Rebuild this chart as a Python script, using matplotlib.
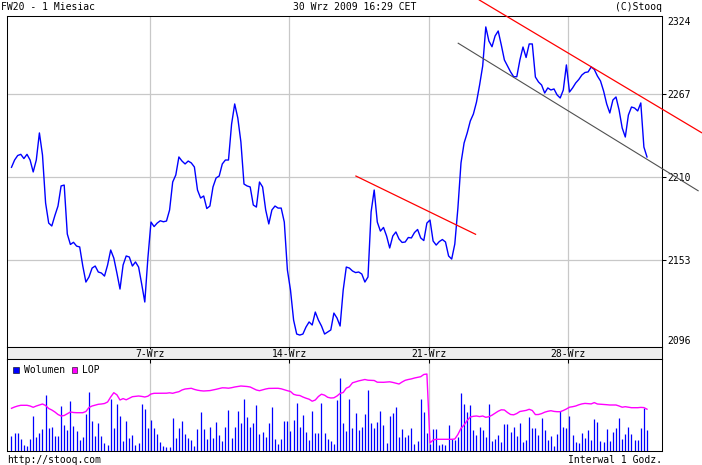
import matplotlib
matplotlib.use("Agg")
import matplotlib.pyplot as plt
import numpy as np
from matplotlib.patches import Rectangle

plt.rcParams["font.family"] = ["DejaVu Sans Mono"]
plt.rcParams["font.size"] = 7

# FW20 hourly close, 31 Aug - 30 Sep 2009 (9 bars per session)
price = [
    2216.7, 2221.7, 2224.8, 2225.6, 2222.7, 2225.6, 2221.7, 2213.5, 2221.7, 2240.3,
    2225.1, 2192.2, 2178.4, 2176.4, 2183.6, 2190.1, 2203.9, 2204.5, 2170.9, 2163.7,
    2165.2, 2162.6, 2162.0, 2148.9, 2137.9, 2141.4, 2147.5, 2148.9, 2144.8, 2144.1,
    2142.0, 2149.6, 2159.9, 2154.4, 2144.1, 2133.1, 2149.6, 2155.8, 2155.1, 2148.9,
    2151.7, 2148.2, 2136.5, 2124.2, 2154.4, 2179.1, 2176.0, 2178.4, 2180.0, 2179.3,
    2179.8, 2187.4, 2206.6, 2211.4, 2223.8, 2221.0, 2219.0, 2221.0, 2219.7, 2216.9,
    2201.1, 2195.6, 2197.0, 2188.4, 2190.1, 2203.2, 2209.4, 2210.7, 2219.0, 2221.7,
    2221.7, 2246.4, 2260.2, 2250.6, 2234.1, 2205.2, 2203.9, 2203.2, 2190.8, 2189.4,
    2206.6, 2203.2, 2187.4, 2177.8, 2187.4, 2190.1, 2188.7, 2188.7, 2179.1, 2146.2,
    2132.4, 2111.8, 2102.2, 2101.5, 2102.2, 2107.0, 2110.5, 2108.4, 2117.3, 2111.8,
    2107.7, 2102.2, 2103.6, 2105.0, 2116.6, 2113.2, 2107.7, 2132.4, 2148.2, 2147.5,
    2145.5, 2144.4, 2144.8, 2143.4, 2137.9, 2141.4, 2186.0, 2201.1, 2179.1, 2172.9,
    2175.4, 2169.5, 2161.3, 2169.5, 2172.3, 2167.5, 2165.1, 2165.4, 2168.5, 2168.2,
    2171.9, 2174.0, 2168.2, 2166.4, 2178.4, 2180.5, 2166.1, 2163.3, 2165.7, 2167.1,
    2165.4, 2155.8, 2153.7, 2164.0, 2188.7, 2219.7, 2233.4, 2240.3, 2248.5, 2253.3,
    2261.5, 2273.2, 2286.3, 2313.1, 2303.4, 2299.5, 2306.9, 2310.3, 2300.7, 2290.4,
    2286.3, 2282.2, 2278.9, 2278.9, 2290.4, 2299.3, 2292.1, 2301.4, 2301.4, 2278.7,
    2275.3, 2273.2, 2267.7, 2271.2, 2269.8, 2270.5, 2266.4, 2264.3, 2269.8, 2287.0,
    2268.4, 2271.2, 2274.6, 2277.0, 2280.1, 2281.8, 2282.2, 2285.6, 2283.9, 2279.4,
    2276.0, 2269.1, 2260.2, 2254.0, 2262.9, 2265.0, 2256.0, 2243.7, 2237.5, 2252.6,
    2258.1, 2257.4, 2255.4, 2260.9, 2230.6, 2223.8,
]

# volume (relative units)
volume = [
    15, 17.7, 17.7, 12, 6, 5, 12, 35, 14.3, 17.7,
    21.7, 56, 22.7, 24.3, 15, 15, 45, 26, 21, 50,
    25, 20.3, 11, 13.7, 37, 59.3, 30, 15, 28.3, 15,
    7.7, 6, 51.7, 23.3, 47, 35, 10.3, 30.3, 12.7, 16,
    6, 8.3, 47, 42, 22.7, 31, 22.7, 16.7, 8.7, 5,
    4.3, 4.3, 32.7, 12.7, 22.7, 30.3, 17.3, 13.3, 11.3, 5,
    22.3, 39.3, 22.3, 12.3, 24.3, 13.3, 29.3, 16, 10.3, 24.3,
    41, 13.3, 24.3, 40.3, 27.7, 52, 34.3, 24.3, 27.7, 46,
    17.3, 19.3, 14.3, 27.7, 44.3, 11.7, 7, 12, 30.3, 30.3,
    20.3, 31, 48.3, 23.7, 36, 19.3, 11, 40.3, 17.7, 17.7,
    48.3, 17.7, 12, 10.3, 7, 51, 72.7, 28.3, 20.3, 52,
    23.3, 38.3, 21, 23.7, 37, 61, 28.3, 22.7, 29.3, 40,
    26, 7.7, 35, 38.3, 43.7, 14.3, 21.7, 14.3, 16, 22.7,
    7, 10.3, 52, 39.3, 17.7, 7, 21.7, 21.7, 6, 7,
    6, 26, 11.7, 11, 14.3, 57.7, 46.7, 39.3, 46, 21,
    16, 23.7, 21, 13.7, 46.7, 10, 12, 16, 9.3, 27,
    27, 19.3, 23.7, 15, 27.7, 9.3, 11, 33.7, 23.3, 22.7,
    16, 33.3, 21, 11, 15, 5, 17, 40.3, 24.3, 22.7,
    35, 16, 9.3, 8.3, 18.3, 13.3, 21, 11, 32, 29.3,
    10.3, 9.3, 22, 10.3, 19.3, 22.7, 33.3, 12, 17, 24.3,
    17, 11, 11, 22.7, 43.3, 21,
]

# LOP - open interest (relative units)
lop = [
    42.7, 44, 45, 45.7, 45.7, 45.7, 45, 43.7, 45, 46,
    47, 45.5, 42.5, 41, 39, 36.5, 35, 35.5, 37.3, 39,
    38.5, 38.3, 38.3, 38.3, 39.5, 43.5, 45, 45.8, 46.7, 47,
    47.5, 49, 54, 58.3, 56.2, 51, 52.4, 51.2, 52.8, 54.3,
    54.7, 55, 54.6, 54, 54.8, 57, 57.7, 57.7, 57.7, 57.7,
    57.8, 58.2, 57.7, 58.6, 59.3, 61, 62, 62.3, 62.7, 61.6,
    60.8, 60.3, 60, 60.2, 60.4, 61, 61.7, 62.4, 63.2, 63.1,
    62.8, 63.3, 64, 64.5, 65, 64.8, 64.5, 64, 62.5, 61,
    60.3, 61.2, 62, 62.6, 62.7, 62.7, 62.7, 62.2, 61.2, 60.3,
    59.5, 56.7, 55.8, 55.5, 54, 52.8, 51.8, 49.8, 51, 54.5,
    56.8, 55.8, 53.7, 53, 53.2, 55, 57.6, 58.5, 62.8, 64.3,
    68.2, 69.2, 70.1, 70.8, 71.5, 70.8, 70.6, 70.5, 68.8, 68.7,
    68.7, 69, 69.2, 68.6, 67.8, 67, 69, 70.7, 71.5, 72.1,
    73, 73.6, 74.3, 76.5, 77, 8, 11, 11.7, 11.7, 11.7,
    11.7, 11.7, 11.7, 12, 16.5, 22.7, 26, 30.5, 34, 34.7,
    35, 34.4, 35, 33.7, 34.3, 35.8, 37.8, 39.8, 41.2, 41,
    38.5, 36.5, 36.2, 37.5, 39.5, 40, 40.6, 41.7, 40.5, 36.4,
    36.5, 37.4, 38.8, 39.7, 40.3, 39.6, 39.3, 39.3, 40.5, 42,
    43.8, 44.3, 45, 46.2, 47.1, 47.6, 47.4, 47.1, 48.4, 47,
    46.8, 46.6, 46.3, 46, 46, 46, 45, 43.8, 44.3, 43.8,
    43.3, 43.3, 43.3, 43.6, 43.4, 41.8,
]

# first bar of each Monday and its label
week_bars = [45, 90, 135, 180]
week_labels = ["7-Wrz", "14-Wrz", "21-Wrz", "28-Wrz"]

price_ticks = [2153, 2210, 2267]
price_min_label, price_max_label = "2096", "2324"

# hand-drawn trend lines: (bar index, price) endpoints
red_line_1 = ([111.1, 149.7], [2210.7, 2170.7])
red_line_2 = ([150.9, 222.6], [2331.6, 2240.5])
gray_line = ([144.1, 221.5], [2301.9, 2200.6])

W, H = 702, 465


def box(x0, y0, x1, y1):
    return [x0 / W, 1 - y1 / H, (x1 - x0) / W, (y1 - y0) / H]


def fx(x):
    return x / W


def fy(y):
    return 1 - y / H


idx = np.arange(len(price))
week_pos = [b - 0.4 for b in week_bars]
xlim = (-1.45, 209.84)
grid_col = "#c8c8c8"

fig = plt.figure(figsize=(W / 100, H / 100), dpi=100)

# price panel
ax = fig.add_axes(box(7, 16, 662, 347))
for x in week_pos:
    ax.axvline(x, color=grid_col, lw=0.9, zorder=0)
for y in price_ticks:
    ax.axhline(y, color=grid_col, lw=0.9, zorder=0)
ax.plot(idx, price, color="#0000ff", lw=1.0, zorder=3)
ax.plot(*red_line_1, color="#ff0000", lw=0.9, zorder=4)
ax.plot(*red_line_2, color="#ff0000", lw=0.9, zorder=4, clip_on=False)
ax.plot(*gray_line, color="#505050", lw=0.8, zorder=4, clip_on=False)
ax.set_xlim(*xlim)
ax.set_ylim(2093.3, 2320.6)
ax.set_xticks([])
ax.yaxis.tick_right()
ax.set_yticks(price_ticks)
ax.set_yticklabels([str(v) for v in price_ticks])
ax.tick_params(axis="y", direction="out", length=2.9, width=0.75, pad=1.0,
               labelsize=7)
for s in ax.spines.values():
    s.set_linewidth(0.75)
fig.text(fx(667), fy(17), price_max_label, ha="left", va="top", fontsize=7)
fig.text(fx(667), fy(346), price_min_label, ha="left", va="bottom", fontsize=7)

# date strip
axd = fig.add_axes(box(7, 347, 662, 359.3))
axd.set_facecolor("#eeeeee")
axd.set_xlim(*xlim)
axd.set_ylim(0, 1)
axd.set_yticks([])
axd.set_xticks(week_pos)
axd.tick_params(axis="x", direction="in", length=1.5, width=0.75,
                top=True, bottom=False, labelbottom=False)
for x, lab in zip(week_pos, week_labels):
    axd.text(x, 0.45, lab, ha="center", va="center", fontsize=7)
for s in axd.spines.values():
    s.set_linewidth(0.75)

# volume / open interest panel
axv = fig.add_axes(box(7, 359.3, 662, 451))
for x in week_pos:
    axv.axvline(x, color=grid_col, lw=0.9, zorder=0)
axv.vlines(idx, 0, volume, color="#0000ff", lw=0.9, zorder=2)
axv.plot(idx, lop, color="#ff00ff", lw=1.0, zorder=3)
axv.set_xlim(*xlim)
axv.set_ylim(0, 91.7)
axv.set_yticks([])
axv.set_xticks(week_pos)
axv.tick_params(axis="x", direction="in", length=3, width=0.75,
                top=True, bottom=False, labelbottom=False)
for s in axv.spines.values():
    s.set_linewidth(0.75)

# legend
for x0, col, lab in [(13.3, "#0000ff", "Wolumen"), (71.7, "#ff00ff", "LOP")]:
    fig.patches.append(Rectangle((fx(x0), fy(372.5)), 5.5 / W, 5.5 / H,
                                 transform=fig.transFigure, facecolor=col,
                                 edgecolor="#000000", lw=0.4))
    fig.text(fx(x0 + 10.5), fy(369.5), lab, ha="left", va="center", fontsize=7)

# header and footer
fig.text(fx(1), fy(7.5), "FW20 - 1 Miesiac", ha="left", va="center", fontsize=7)
fig.text(fx(355), fy(7.5), "30 Wrz 2009 16:29 CET", ha="center", va="center",
         fontsize=7)
fig.text(fx(662), fy(7.5), "(C)Stooq", ha="right", va="center", fontsize=7)
fig.text(fx(7), fy(459.5), "http://stooq.com", ha="left", va="center",
         fontsize=7)
fig.text(fx(662), fy(459.5), "Interwal 1 Godz.", ha="right", va="center",
         fontsize=7)

fig.savefig("out.png", dpi=100)
